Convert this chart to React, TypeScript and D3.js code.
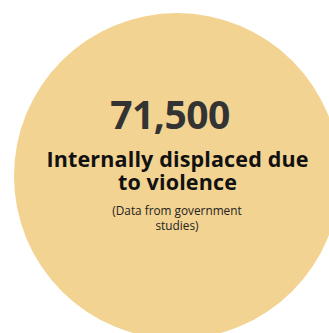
import React from "react";
import * as d3 from "d3";

const values = [71500];
const titleLines = ["Internally displaced due", "to violence"];
const noteLines = ["(Data from government", "studies)"];

const W = 329;
const H = 333;

export default function App() {
  const r = d3.scaleSqrt().domain([0, 71500]).range([0, 163]);
  const fmt = d3.format(",");
  const cx = 177;
  const cy = 176;
  const font = "'Open Sans', 'Lato', sans-serif";
  return (
    <svg width={W} height={H} style={{ position: "absolute", left: 0, top: 0 }}>
      {values.map((v, i) => (
        <g key={i}>
          <circle cx={cx} cy={cy} r={r(v)} fill="#f2d391" />
          <text x={170} y={129} textAnchor="middle" fontFamily={font} fontWeight={700} fontSize={39} fill="#333333" letterSpacing={-0.5}>
            {fmt(v)}
          </text>
        </g>
      ))}
      {titleLines.map((t, i) => (
        <text key={t} x={177.5} y={167 + i * 23} textAnchor="middle" fontFamily={font} fontWeight={700} fontSize={21.5} fill="#111111" letterSpacing={0.15}>
          {t}
        </text>
      ))}
      {noteLines.map((t, i) => (
        <text key={t} x={177} y={215 + i * 15} textAnchor="middle" fontFamily={font} fontWeight={400} fontSize={11.8} fill="#222222">
          {t}
        </text>
      ))}
    </svg>
  );
}
